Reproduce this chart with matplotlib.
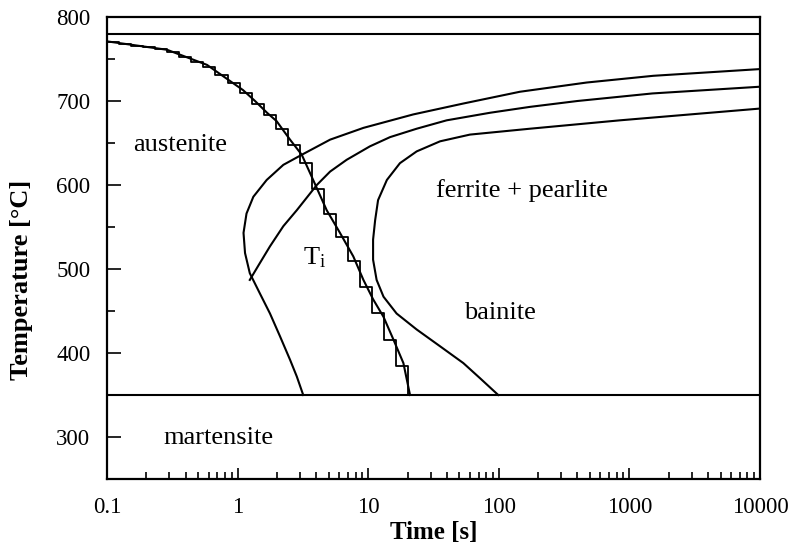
import numpy as np
import matplotlib
matplotlib.use("Agg")
import matplotlib.pyplot as plt
from matplotlib.ticker import FixedLocator, NullFormatter

# cooling curve (time in s, temperature in C)
cool_time = [0.1, 0.288, 0.583, 1.10, 1.36, 1.68, 1.99, 2.52, 3.10, 3.69, 4.81,
             6.08, 7.69, 9.19, 10.9, 13.1, 15.6, 18.6, 20.9]
cool_temp = [771, 761, 743, 713, 700, 686, 676, 654, 636, 610, 570,
             543, 515, 487, 464, 443, 416, 388, 350]

# isothermal staircase approximation of the cooling curve
step_time = [0.1, 0.124, 0.153, 0.189, 0.234, 0.289, 0.358, 0.443, 0.547, 0.677,
             0.838, 1.036, 1.28, 1.58, 1.96, 2.42, 3.00, 3.71, 4.59, 5.67,
             7.01, 8.68, 10.7, 13.3, 16.4, 20.3]
step_temp = [770, 768, 766, 764, 762, 758, 752, 747, 741, 731,
             721, 710, 697, 683, 667, 648, 626, 595, 566, 538,
             509, 478, 448, 416, 385, 350]

# ferrite start (outer C curve)
fs_time = [3.18, 2.84, 2.52, 2.11, 1.77, 1.48, 1.24, 1.14, 1.11, 1.17, 1.32,
           1.67, 2.24, 3.10, 5.11, 9.19, 22.1, 53.5, 145, 471, 1524, 10000]
fs_temp = [350, 372, 392, 420, 447, 471, 495, 519, 543, 566, 586,
           606, 624, 636, 654, 668, 684, 697, 711, 722, 730, 738]

# pearlite start
ps_time = [1.24, 1.48, 1.77, 2.24, 2.84, 4.04, 5.11, 6.84, 10.3, 14.7, 23.5,
           39.9, 85.7, 173, 400, 1500, 10000]
ps_temp = [487, 507, 527, 551, 570, 600, 616, 630, 646, 657, 667,
           677, 686, 693, 700, 709, 717]

# bainite C curve
bs_time = [99, 71.8, 53.5, 35.5, 23.5, 16.5, 13.1, 11.6, 10.9, 10.9, 11.3,
           11.9, 13.9, 17.5, 23.5, 35.5, 60.1, 173, 847, 10000]
bs_temp = [350, 370, 388, 408, 428, 447, 467, 487, 511, 535, 558,
           582, 606, 626, 640, 652, 660, 667, 677, 691]

ae_temp = 780   # upper horizontal line
ms_temp = 350   # martensite start

x_ticks = [0.1, 1, 10, 100, 1000, 10000]
x_labels = ["0.1", "1", "10", "100", "1000", "10000"]
y_ticks = [300, 400, 500, 600, 700, 800]

plt.rcParams["font.family"] = ["Liberation Serif", "DejaVu Serif"]
plt.rcParams["mathtext.fontset"] = "stix"

fig = plt.figure(figsize=(7.92, 5.49), dpi=100)
ax = fig.add_axes([107 / 792, 1 - 479 / 549, (760 - 107) / 792, (479 - 17) / 549])

lw = 1.5
ax.axhline(ae_temp, color="black", lw=lw)
ax.axhline(ms_temp, color="black", lw=lw)
ax.plot(fs_time, fs_temp, color="black", lw=lw)
ax.plot(ps_time, ps_temp, color="black", lw=lw)
ax.plot(bs_time, bs_temp, color="black", lw=lw)
ax.plot(cool_time, cool_temp, color="black", lw=lw)
ax.step(step_time, step_temp, where="post", color="black", lw=1.3)

ax.set_xscale("log")
ax.set_xlim(0.1, 10000)
ax.set_ylim(250, 800)

ax.xaxis.set_major_locator(FixedLocator(x_ticks))
ax.set_xticklabels(x_labels)
ax.xaxis.set_minor_locator(matplotlib.ticker.LogLocator(base=10, subs=np.arange(2, 10)))
ax.xaxis.set_minor_formatter(NullFormatter())
ax.set_yticks(y_ticks)
ax.yaxis.set_minor_locator(FixedLocator([350, 450, 550, 650, 750]))

ax.tick_params(axis="both", which="both", direction="in", top=False, right=False,
               labelsize=16.5, width=1.2)
ax.tick_params(axis="x", which="major", length=8, pad=13)
ax.tick_params(axis="x", which="minor", length=5)
ax.tick_params(axis="y", which="major", length=10, pad=12)
ax.tick_params(axis="y", which="minor", length=6)
for s in ax.spines.values():
    s.set_linewidth(1.6)

ax.set_xlabel("Time [s]", fontsize=18, fontweight="bold", labelpad=2)
ax.set_ylabel("Temperature [°C]", fontsize=19, fontweight="bold")
ax.yaxis.set_label_coords(-0.113, 0.43)

fs = 19
ax.text(0.36, 648, "austenite", fontsize=fs, ha="center", va="center")
ax.text(150, 594, "ferrite + pearlite", fontsize=fs, ha="center", va="center")
ax.text(102, 448, "bainite", fontsize=fs, ha="center", va="center")
ax.text(0.72, 299, "martensite", fontsize=fs, ha="center", va="center")
ax.text(3.9, 513, r"$\mathregular{T_i}$", fontsize=fs, ha="center", va="center")

plt.savefig("out.png", dpi=100)
